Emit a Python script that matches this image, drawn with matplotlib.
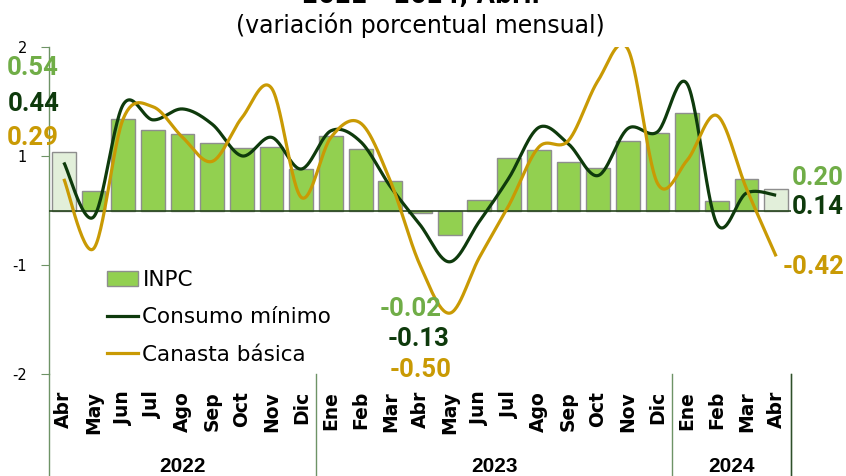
import numpy as np
import matplotlib
matplotlib.use("Agg")
import matplotlib.pyplot as plt
from matplotlib.patches import Patch
from matplotlib.lines import Line2D


# ---- data -------------------------------------------------------------
meses = ["Abr", "May", "Jun", "Jul", "Ago", "Sep", "Oct", "Nov", "Dic",
         "Ene", "Feb", "Mar", "Abr", "May", "Jun", "Jul", "Ago", "Sep",
         "Oct", "Nov", "Dic", "Ene", "Feb", "Mar", "Abr"]
anios = ["2022", "2023", "2024"]
meses_por_anio = [9, 12, 4]

inpc = [0.54, 0.18, 0.84, 0.74, 0.70, 0.62, 0.57, 0.58, 0.38,
        0.68, 0.56, 0.27, -0.02, -0.22, 0.10, 0.48, 0.55, 0.44,
        0.39, 0.64, 0.71, 0.89, 0.09, 0.29, 0.20]
consumo_minimo = [0.44, -0.06, 0.97, 0.83, 0.93, 0.79, 0.50, 0.67, 0.38,
                  0.73, 0.63, 0.22, -0.13, -0.47, -0.10, 0.30, 0.76, 0.61,
                  0.32, 0.75, 0.72, 1.16, -0.12, 0.16, 0.14]
canasta_basica = [0.29, -0.35, 0.84, 0.95, 0.67, 0.45, 0.85, 1.12, 0.12,
                  0.67, 0.80, 0.27, -0.50, -0.94, -0.43, 0.05, 0.58, 0.64,
                  1.19, 1.48, 0.25, 0.46, 0.87, 0.20, -0.42]

# y axis shows rounded labels at the major ticks (Excel style)
ytick_vals = [-1.5, -0.5, 0.5, 1.5]
ytick_labels = ["-2", "-1", "1", "2"]

C_BAR = "#92D050"
C_BAR_HI = "#E2EFDA"
C_INPC_TXT = "#70AD47"
C_CONSUMO = "#0E3A0C"
C_CANASTA = "#C99A04"
C_AXIS = "#6E9366"


def smooth(y, n=30):
    """Excel-like smoothed line (Catmull-Rom bezier through points)."""
    y = np.asarray(y, dtype=float)
    x = np.arange(len(y), dtype=float)
    pts = np.column_stack([x, y])
    out = []
    t = np.linspace(0, 1, n)
    for i in range(len(pts) - 1):
        p0 = pts[i - 1] if i > 0 else pts[i]
        p1 = pts[i]
        p2 = pts[i + 1]
        p3 = pts[i + 2] if i + 2 < len(pts) else pts[i + 1]
        c1 = p1 + (p2 - p0) / 6
        c2 = p2 - (p3 - p1) / 6
        seg = ((1 - t) ** 3)[:, None] * p1 + (3 * (1 - t) ** 2 * t)[:, None] * c1 \
            + (3 * (1 - t) * t ** 2)[:, None] * c2 + (t ** 3)[:, None] * p2
        out.append(seg if i == 0 else seg[1:])
    seg = np.vstack(out)
    return seg[:, 0], seg[:, 1]


W, H = 846, 476
fig = plt.figure(figsize=(W / 100, H / 100), dpi=100)
ax_left, ax_right, ax_top, ax_bot = 49, 791, 46.7, 374.3
ax = fig.add_axes([ax_left / W, 1 - ax_bot / H,
                   (ax_right - ax_left) / W, (ax_bot - ax_top) / H])

x = np.arange(len(meses))
colors = [C_BAR] * len(meses)
colors[0] = C_BAR_HI
colors[-1] = C_BAR_HI
ax.bar(x, inpc, width=0.8, color=colors, edgecolor="#8E8E8E", linewidth=1.0,
       zorder=2)

ax.axhline(0, color="#27461F", lw=1.2, zorder=3)

xs, ys = smooth(consumo_minimo)
ax.plot(xs, ys, color=C_CONSUMO, lw=2.3, zorder=4, solid_capstyle="butt")
xs, ys = smooth(canasta_basica)
ax.plot(xs, ys, color=C_CANASTA, lw=2.3, zorder=5, solid_capstyle="butt")

ax.set_xlim(-0.5, len(meses) - 0.5)
ax.set_ylim(-1.5, 1.5)
for s in ["top", "right", "bottom"]:
    ax.spines[s].set_visible(False)
ax.spines["left"].set_color(C_AXIS)
ax.spines["left"].set_linewidth(1.0)

ax.set_yticks(ytick_vals)
ax.set_yticklabels(ytick_labels, fontsize=10.5, family="DejaVu Sans")
ax.tick_params(axis="y", direction="out", length=6, color=C_AXIS, pad=10)

ax.set_xticks(x)
ax.set_xticklabels(meses, rotation=90, fontsize=13.5, fontweight="bold",
                   family="DejaVu Sans")
ax.tick_params(axis="x", length=0, pad=12)

# group separators and year labels below the axis
bounds = np.concatenate([[0], np.cumsum(meses_por_anio)]) - 0.5
for b in bounds:
    ax.axvline(b, ymin=-0.32, ymax=0, color=C_AXIS, lw=1.0, clip_on=False)
ax.axvline(bounds[-1], ymin=-0.32, ymax=0, color="#2F4F2A", lw=1.0,
           clip_on=False)
for i, anio in enumerate(anios):
    ax.text((bounds[i] + bounds[i + 1]) / 2, -0.28, anio,
            transform=ax.get_xaxis_transform(), ha="center", va="center",
            fontsize=15, fontweight="bold", family="Liberation Sans")

# legend
handles = [Patch(facecolor=C_BAR, edgecolor="#8E8E8E", linewidth=1.0),
           Line2D([], [], color=C_CONSUMO, lw=2.3),
           Line2D([], [], color=C_CANASTA, lw=2.3)]
leg = ax.legend(handles, ["INPC", "Consumo mínimo", "Canasta básica"],
                loc="upper left", bbox_to_anchor=(0.078, 0.318),
                frameon=False, handlelength=1.45,
                handleheight=0.65, handletextpad=0.2, labelspacing=0.8,
                borderpad=0, borderaxespad=0,
                prop={"family": "DejaVu Sans", "size": 15.5})

# titles
fig.text(0.497, 1 - 3 / H, "2022 - 2024, Abril", ha="center", va="baseline",
         fontsize=17, fontweight="bold", family="DejaVu Sans")
fig.text(0.497, 1 - 33 / H, "(variación porcentual mensual)", ha="center",
         va="baseline", fontsize=17, family="DejaVu Sans")

# value labels
lab = dict(fontsize=18.5, fontweight="bold", family="Roboto",
           ha="center", va="center")


def put(px, py, value, color):
    fig.text(px / W, 1 - py / H, f"{value:.2f}", color=color, **lab)


put(33, 68, inpc[0], C_INPC_TXT)
put(34, 104, consumo_minimo[0], C_CONSUMO)
put(33, 138, canasta_basica[0], C_CANASTA)

put(411, 309, inpc[12], C_INPC_TXT)
put(419, 339, consumo_minimo[12], C_CONSUMO)
put(421, 370, canasta_basica[12], C_CANASTA)

put(818, 178, inpc[-1], C_INPC_TXT)
put(818, 207, consumo_minimo[-1], C_CONSUMO)
put(814, 267, canasta_basica[-1], C_CANASTA)

fig.savefig("out.png", dpi=100)
